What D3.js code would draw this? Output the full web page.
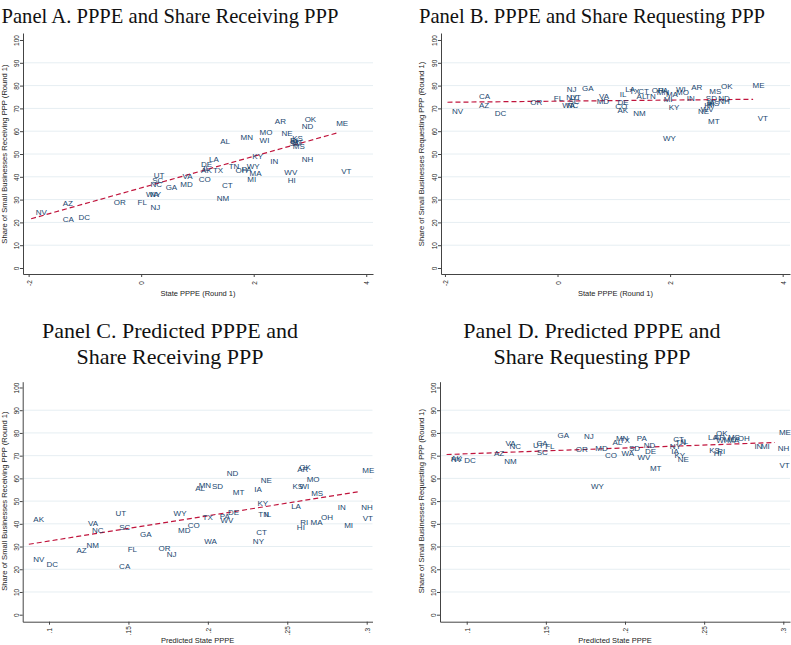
<!DOCTYPE html>
<html>
<head>
<meta charset="utf-8">
<script src="https://cdn.jsdelivr.net/npm/d3@7/dist/d3.min.js"></script>
<style>
  html, body { margin: 0; padding: 0; background: #fff; }
  svg { display: block; }
</style>
</head>
<body>
<svg id="chart" width="791" height="645"></svg>
<script>
// ---------------- DATA ----------------
const states = ["AK","AL","AR","AZ","CA","CO","CT","DC","DE","FL","GA","HI","IA","IL","IN","KS","KY","LA","MA","MD","ME","MI","MN","MO","MS","MT","NC","ND","NE","NH","NJ","NM","NV","NY","OH","OK","OR","PA","RI","SC","SD","TN","TX","UT","VA","VT","WA","WI","WV","WY"];
// State PPPE (Round 1) - panels A, B
const xPPPE = [0.985,1.325,2.295,-1.475,-1.475,0.945,1.355,-1.195,0.985,-0.145,0.355,2.525,2.575,1.025,2.215,2.605,1.895,1.125,1.845,0.615,3.385,1.805,1.685,2.025,2.615,2.595,0.085,2.775,2.415,2.775,0.085,1.265,-1.955,0.075,1.595,2.825,-0.565,1.705,2.565,0.115,2.555,1.475,1.195,0.145,0.655,3.475,0.005,2.025,2.465,1.795];
// Share receiving PPP (Round 1) - panel A
const shareRecv = [42.7,55.4,64.2,28.1,21.4,39.0,36.0,22.1,45.5,28.8,35.4,38.5,55.7,43.5,46.9,56.6,48.8,47.8,41.5,36.8,63.5,39.0,57.2,59.5,53.2,55.0,36.7,62.0,59.1,47.4,26.6,30.3,24.3,32.1,42.8,65.2,28.9,43.3,55.8,38.3,54.4,44.4,42.7,40.5,40.0,42.2,32.1,56.1,41.8,44.4];
// Share requesting PPP (Round 1) - panel B
const shareReq = [69.2,75.3,79.0,71.1,75.2,70.7,77.4,67.7,72.4,74.2,78.8,71.2,72.8,76.3,74.4,72.0,70.2,78.2,76.2,73.0,79.9,73.9,76.9,76.9,77.4,64.4,71.1,74.4,68.6,73.0,78.2,67.6,68.5,74.6,77.8,79.6,72.7,77.8,71.8,73.2,74.2,75.3,77.4,74.9,75.3,65.7,71.1,78.1,69.5,56.7];
// Predicted State PPPE - panels C, D
const xPred = [0.0873,0.1892,0.2534,0.1144,0.1413,0.1845,0.2277,0.0956,0.2098,0.1467,0.1545,0.2532,0.2264,0.2328,0.2789,0.2504,0.2284,0.2496,0.2618,0.1784,0.2944,0.2830,0.1914,0.2594,0.2622,0.2129,0.1242,0.2090,0.2304,0.2937,0.1713,0.1208,0.0873,0.2255,0.2684,0.2547,0.1661,0.2046,0.2554,0.1414,0.1997,0.2289,0.1938,0.1390,0.1217,0.2947,0.1949,0.2548,0.2051,0.1756];
// Share receiving PPP - panel C
const shareRecvPred = [42.0,55.4,64.1,28.1,21.1,39.1,36.1,22.3,44.9,28.8,35.2,38.3,54.9,44.2,47.1,56.4,48.8,47.6,40.8,36.9,63.4,39.2,56.8,59.3,53.5,53.7,36.9,62.0,59.2,47.3,26.6,30.4,24.4,32.2,42.9,64.9,29.1,43.2,40.7,38.5,56.3,44.2,42.7,44.7,40.1,42.2,32.2,56.3,41.6,44.4];
// Share requesting PPP - panel D
const shareReqPred = [68.8,75.9,78.0,71.0,75.4,70.2,77.1,67.7,71.7,74.2,78.9,71.0,71.7,76.4,74.2,72.4,70.2,78.0,76.5,73.2,80.0,73.9,77.4,77.3,77.8,64.4,74.2,74.3,68.5,73.2,78.3,67.6,68.3,74.2,77.6,79.8,72.7,77.6,71.7,71.2,73.2,75.6,76.8,74.6,75.4,65.7,71.0,76.8,69.0,56.6];
// Linear fit lines [x, y] endpoints
const fitA = [[-1.955,21.6],[3.475,59.2]];
const fitB = [[-1.955,72.7],[3.475,74.0]];
const fitC = [[0.0873,31.0],[0.2947,54.1]];
const fitD = [[0.0873,70.5],[0.2947,75.8]];
// Ticks
const yTicks = [0,10,20,30,40,50,60,70,80,90,100];
const yGrid = [10,20,30,40,50,60,70,80,90];
const xTicksPPPE = [-2,0,2,4];
const xTickLabelsPPPE = ["-2","0","2","4"];
const xTicksPred = [0.1,0.15,0.2,0.25,0.3];
const xTickLabelsPred = [".1",".15",".2",".25",".3"];
// Texts
const titles = {
  A: ["Panel A. PPPE and Share Receiving PPP"],
  B: ["Panel B. PPPE and Share Requesting PPP"],
  C: ["Panel C. Predicted PPPE and", "Share Receiving PPP"],
  D: ["Panel D. Predicted PPPE and", "Share Requesting PPP"]
};
const xTitles = { A: "State PPPE (Round 1)", B: "State PPPE (Round 1)", C: "Predicted State PPPE", D: "Predicted State PPPE" };
const yTitles = {
  A: "Share of Small Businesses Receiving PPP (Round 1)",
  B: "Share of Small Businesses Requesting PPP (Round 1)",
  C: "Share of Small Businesses Receiving PPP (Round 1)",
  D: "Share of Small Businesses Requesting PPP (Round 1)"
};

// ---------------- LAYOUT ----------------
const panels = [
  { id:"A", xs:xPPPE, ys:shareRecv, fit:fitA, xt:xTicksPPPE, xtl:xTickLabelsPPPE,
    xr:[23,373], xd:[-2.1,4.12], yr:[274,33], yd:[-2.63,103.07],
    titleX:170, titleY:[23], titleSize:20.6, yTitleX:6.5, xTitleY:296 },
  { id:"B", xs:xPPPE, ys:shareReq, fit:fitB, xt:xTicksPPPE, xtl:xTickLabelsPPPE,
    xr:[441,790], xd:[-2.07,4.13], yr:[274,33], yd:[-2.63,103.07],
    titleX:592, titleY:[23], titleSize:20.6, yTitleX:423.5, xTitleY:296 },
  { id:"C", xs:xPred, ys:shareRecvPred, fit:fitC, xt:xTicksPred, xtl:xTickLabelsPred,
    xr:[22.7,372.5], xd:[0.08344,0.30365], yr:[621.7,381.7], yd:[-3.08,102.55],
    titleX:170, titleY:[338,364], titleSize:22, yTitleX:6.5, xTitleY:643 },
  { id:"D", xs:xPred, ys:shareReqPred, fit:fitD, xt:xTicksPred, xtl:xTickLabelsPred,
    xr:[440,790], xd:[0.08313,0.30423], yr:[621.7,381.7], yd:[-3.08,102.55],
    titleX:592, titleY:[338,364], titleSize:22, yTitleX:423.5, xTitleY:643 }
];

const svg = d3.select("#chart");
const SANS = "'Liberation Sans', Arial, Helvetica, sans-serif";
const SERIF = "'Liberation Serif', 'Times New Roman', serif";
const AXIS = "#444";
const GRID = "#e6eef2";
const LABEL = "#1a476f";
const FIT = "#c0143c";

panels.forEach(p => {
  const g = svg.append("g");
  const x = d3.scaleLinear().domain(p.xd).range(p.xr);
  const y = d3.scaleLinear().domain(p.yd).range(p.yr);

  // grid
  g.selectAll("line.grid").data(yGrid).join("line")
    .attr("x1", p.xr[0]).attr("x2", p.xr[1])
    .attr("y1", d => y(d)).attr("y2", d => y(d))
    .attr("stroke", GRID).attr("stroke-width", 1);

  // y axis
  const ya = d3.axisLeft(y).tickValues(yTicks).tickSize(3).tickSizeOuter(0).tickFormat(d3.format("d"));
  const yg = g.append("g").attr("transform", `translate(${p.xr[0]},0)`).call(ya);
  yg.select(".domain").attr("stroke", AXIS);
  yg.selectAll(".tick line").attr("stroke", AXIS);
  yg.selectAll(".tick text")
    .attr("x", null).attr("dy", null)
    .attr("transform", "translate(-4,0) rotate(-90)")
    .attr("text-anchor", "middle")
    .attr("font-family", SANS).attr("font-size", "6.5px").attr("fill", "#222");

  // x axis
  const xa = d3.axisBottom(x).tickValues(p.xt).tickSize(3).tickSizeOuter(0)
    .tickFormat((d,i) => p.xtl[i]);
  const xg = g.append("g").attr("transform", `translate(0,${p.yr[0]})`).call(xa);
  xg.select(".domain").attr("stroke", AXIS);
  xg.selectAll(".tick line").attr("stroke", AXIS);
  xg.selectAll(".tick text")
    .attr("y", null).attr("dy", null)
    .attr("transform", "translate(0,9) rotate(-90)")
    .attr("text-anchor", "middle")
    .attr("dominant-baseline", "central")
    .attr("font-family", SANS).attr("font-size", "6.5px").attr("fill", "#222");

  // fit line
  g.append("path")
    .datum(p.fit)
    .attr("d", d3.line().x(d => x(d[0])).y(d => y(d[1])))
    .attr("fill", "none").attr("stroke", FIT).attr("stroke-width", 1.2)
    .attr("stroke-dasharray", "5,3");

  // state labels
  g.selectAll("text.st").data(states).join("text")
    .attr("class", "st")
    .attr("x", (d,i) => x(p.xs[i]) + 4.5)
    .attr("y", (d,i) => y(p.ys[i]))
    .attr("dominant-baseline", "central")
    .attr("font-family", SANS).attr("font-size", "8px").attr("fill", LABEL)
    .text(d => d);

  // axis titles
  g.append("text")
    .attr("x", (p.xr[0] + p.xr[1]) / 2).attr("y", p.xTitleY)
    .attr("text-anchor", "middle")
    .attr("font-family", SANS).attr("font-size", "7.5px").attr("fill", "#222")
    .text(xTitles[p.id]);
  const yMid = (y(0) + y(100)) / 2;
  g.append("text")
    .attr("transform", `translate(${p.yTitleX},${yMid}) rotate(-90)`)
    .attr("text-anchor", "middle")
    .attr("font-family", SANS).attr("font-size", "7.6px").attr("fill", "#222")
    .text(yTitles[p.id]);

  // panel title
  titles[p.id].forEach((t, i) => {
    svg.append("text")
      .attr("x", p.titleX).attr("y", p.titleY[i])
      .attr("text-anchor", "middle")
      .attr("font-family", SERIF).attr("font-size", p.titleSize + "px").attr("fill", "#111")
      .text(t);
  });
});
</script>
</body>
</html>
